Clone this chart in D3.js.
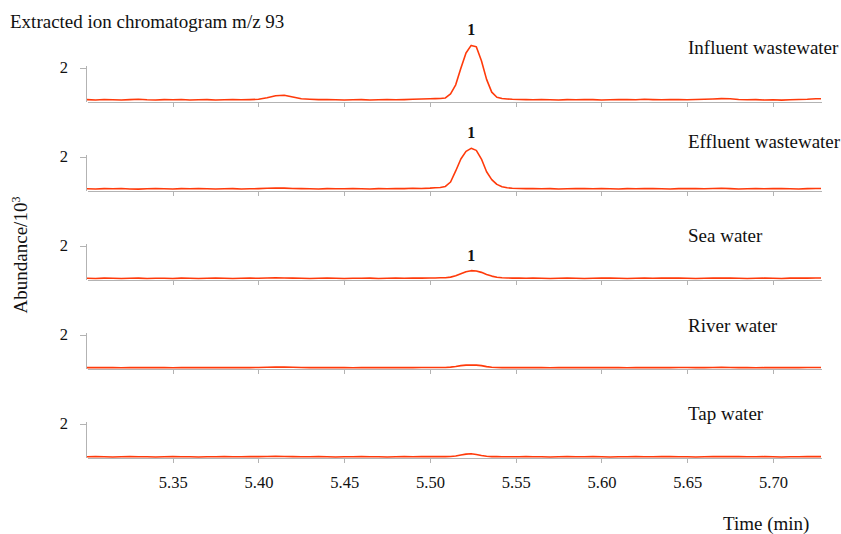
<!DOCTYPE html>
<html>
<head>
<meta charset="utf-8">
<script src="https://cdn.jsdelivr.net/npm/d3@7"></script>
<style>
  body { margin: 0; background: #fff; }
  svg, svg text { font-family: "Liberation Serif", "Times New Roman", serif; }
  .axis path, .axis line { stroke: #b3b3b3; stroke-width: 1; shape-rendering: crispEdges; }
</style>
</head>
<body>
<div id="canvas" class="canvas" style="width:841px;height:534px"></div>
<script>
// retention times (min), shared by all traces
var times = [5.300,5.305,5.310,5.315,5.320,5.325,5.330,5.335,5.340,5.345,5.350,5.355,5.360,5.365,5.370,5.375,5.380,5.385,5.390,5.395,5.400,
  5.405,5.410,5.415,5.420,5.425,5.430,5.435,5.440,5.445,5.450,5.455,5.460,5.465,5.470,5.475,5.480,5.485,5.490,5.495,5.500,
  5.503,5.506,5.509,5.512,5.515,5.518,5.521,5.524,5.527,5.530,5.533,5.536,5.539,5.542,5.545,5.548,
  5.552,5.556,5.560,5.565,5.570,5.575,5.580,5.585,5.590,5.595,5.600,5.605,5.610,5.615,5.620,5.625,5.630,5.635,5.640,5.645,
  5.650,5.655,5.660,5.665,5.670,5.675,5.680,5.685,5.690,5.695,5.700,5.705,5.710,5.715,5.720,5.725,5.728];

var samples = ['Influent wastewater','Effluent wastewater','Sea water','River water','Tap water'];
var peakLabels = ['1','1','1','',''];

// abundance / 10^3
var influent = [0.11,0.09,0.12,0.10,0.09,0.11,0.13,0.10,0.09,0.11,0.10,0.12,0.09,0.10,0.11,0.09,0.10,0.12,0.10,0.11,
  0.13,0.22,0.34,0.37,0.26,0.16,0.13,0.11,0.12,0.10,0.09,0.10,0.11,0.09,0.10,0.12,0.10,0.11,0.13,0.15,0.16,
  0.17,0.18,0.21,0.45,0.98,1.95,2.85,3.30,3.22,2.40,1.30,0.55,0.25,0.18,0.15,0.13,
  0.12,0.11,0.10,0.12,0.10,0.09,0.11,0.10,0.12,0.11,0.09,0.10,0.11,0.12,0.10,0.13,0.11,0.10,0.12,0.11,
  0.10,0.12,0.13,0.15,0.17,0.16,0.12,0.10,0.11,0.09,0.10,0.08,0.10,0.12,0.13,0.16,0.16];
var effluent = [0.10,0.09,0.11,0.10,0.12,0.09,0.08,0.10,0.11,0.10,0.09,0.11,0.10,0.12,0.10,0.09,0.10,0.11,0.09,0.10,
  0.11,0.13,0.15,0.14,0.12,0.11,0.10,0.09,0.11,0.10,0.10,0.12,0.10,0.09,0.11,0.10,0.12,0.11,0.13,0.12,0.14,
  0.16,0.18,0.24,0.50,1.15,1.85,2.30,2.48,2.36,1.85,1.10,0.64,0.36,0.22,0.16,0.13,
  0.12,0.11,0.12,0.10,0.11,0.09,0.10,0.12,0.11,0.10,0.12,0.10,0.09,0.11,0.10,0.12,0.11,0.10,0.09,0.11,
  0.12,0.11,0.10,0.12,0.13,0.11,0.09,0.10,0.11,0.10,0.12,0.11,0.10,0.09,0.11,0.12,0.12];
var seaWater = [0.07,0.06,0.08,0.07,0.06,0.07,0.08,0.06,0.07,0.07,0.06,0.08,0.07,0.06,0.07,0.08,0.07,0.06,0.07,0.08,
  0.07,0.09,0.10,0.09,0.08,0.07,0.06,0.07,0.08,0.07,0.06,0.07,0.07,0.08,0.06,0.07,0.08,0.07,0.08,0.08,0.09,
  0.09,0.10,0.10,0.14,0.22,0.34,0.46,0.52,0.50,0.42,0.30,0.20,0.13,0.10,0.09,0.08,
  0.08,0.07,0.08,0.07,0.06,0.07,0.08,0.07,0.06,0.07,0.08,0.09,0.07,0.06,0.07,0.08,0.07,0.08,0.09,0.08,
  0.07,0.06,0.07,0.08,0.09,0.08,0.07,0.06,0.07,0.08,0.07,0.06,0.08,0.09,0.08,0.09,0.09];
var riverWater = [0.05,0.05,0.06,0.05,0.04,0.05,0.05,0.06,0.05,0.05,0.04,0.05,0.05,0.06,0.05,0.05,0.05,0.06,0.05,0.05,
  0.06,0.07,0.08,0.08,0.07,0.06,0.05,0.05,0.06,0.05,0.05,0.04,0.05,0.05,0.06,0.05,0.05,0.06,0.05,0.06,0.06,
  0.06,0.06,0.06,0.08,0.12,0.17,0.20,0.20,0.20,0.17,0.11,0.07,0.06,0.05,0.05,0.05,
  0.05,0.06,0.05,0.05,0.04,0.05,0.05,0.06,0.05,0.05,0.05,0.06,0.05,0.04,0.05,0.05,0.06,0.05,0.05,0.06,
  0.06,0.05,0.05,0.06,0.07,0.06,0.05,0.05,0.04,0.05,0.05,0.06,0.05,0.05,0.06,0.06,0.06];
var tapWater = [0.04,0.05,0.04,0.03,0.04,0.05,0.04,0.04,0.03,0.04,0.05,0.04,0.04,0.03,0.04,0.04,0.05,0.04,0.04,0.05,
  0.05,0.06,0.07,0.06,0.05,0.04,0.04,0.05,0.04,0.03,0.04,0.04,0.05,0.04,0.04,0.03,0.04,0.05,0.04,0.05,0.05,
  0.05,0.05,0.05,0.06,0.09,0.15,0.20,0.22,0.18,0.12,0.07,0.05,0.05,0.04,0.04,0.04,
  0.04,0.05,0.04,0.04,0.03,0.04,0.05,0.04,0.04,0.05,0.04,0.03,0.04,0.04,0.05,0.04,0.04,0.05,0.05,0.04,
  0.04,0.03,0.04,0.05,0.05,0.06,0.05,0.04,0.04,0.05,0.04,0.03,0.04,0.04,0.05,0.05,0.05];

var traces = [influent, effluent, seaWater, riverWater, tapWater];
var xTicks = [5.35,5.40,5.45,5.50,5.55,5.60,5.65,5.70];
var yTicks = [2];

// layout
var W = 841, H = 534;
var x0 = 87, x1 = 821;
var firstBase = 101.5, step = 89, pxPerUnit = 17;
var labelDy = [-48, -42.5, -38, -37, -38];
var serif = '"Liberation Serif", "Times New Roman", serif';

var svg = d3.select('.canvas')
    .append('svg')
    .attr('width', W)
    .attr('height', H)
    .style('font-family', serif);

var scaleX = d3.scaleLinear()
    .domain([5.30, 5.728])
    .range([x0, x1]);

var line = d3.line()
    .x(function(d){ return scaleX(d[0]); })
    .y(function(d){ return d[1]; });

traces.forEach(function(vals, i){
    var base = firstBase + i*step;
    var scaleY = d3.scaleLinear()
        .domain([0, 2.1])
        .range([base, base - 2.1*pxPerUnit]);

    // x axis of each panel (labels only on last)
    var ax = d3.axisBottom(scaleX)
        .tickValues(xTicks)
        .tickSize(5)
        .tickSizeOuter(0)
        .tickPadding(14)
        .tickFormat(i == traces.length - 1 ? d3.format('.2f') : '');
    var gx = svg.append('g')
        .attr('class','axis')
        .attr('transform','translate(0,' + base + ')')
        .call(ax);

    var ay = d3.axisLeft(scaleY)
        .tickValues(yTicks)
        .tickSize(6)
        .tickSizeOuter(0)
        .tickPadding(12)
        .tickFormat(d3.format('d'));
    var gy = svg.append('g')
        .attr('class','axis')
        .attr('transform','translate(' + (x0 - 1) + ',0)')
        .call(ay);

    [gx, gy].forEach(function(g){
        g.attr('font-family', null).attr('font-size', null);
        g.selectAll('text')
            .style('font-family', serif)
            .style('font-size', '16.5px')
            .attr('fill', '#111');
    });

    var pts = times.map(function(t, k){ return [t, scaleY(vals[k])]; });
    svg.append('path')
        .attr('d', line(pts))
        .attr('fill','none')
        .attr('stroke','#ff3a0a')
        .attr('stroke-width',1.6)
        .attr('stroke-linejoin','round');

    if (peakLabels[i]) {
        var top = d3.maxIndex(vals);
        svg.append('text')
            .attr('x', scaleX(times[top]))
            .attr('y', scaleY(vals[top]) - 10)
            .attr('text-anchor','middle')
            .style('font-size','16px')
            .style('font-weight','bold')
            .attr('fill','#111')
            .text(peakLabels[i]);
    }

    svg.append('text')
        .attr('x', 688)
        .attr('y', base + labelDy[i])
        .style('font-size','19px')
        .attr('fill','#111')
        .text(samples[i]);
});

svg.append('text')
    .attr('x', 10)
    .attr('y', 28)
    .style('font-size','19px')
    .attr('fill','#111')
    .text('Extracted ion chromatogram m/z 93');

var yl = svg.append('text')
    .attr('transform','translate(27,255) rotate(-90)')
    .attr('text-anchor','middle')
    .style('font-size','19px')
    .attr('fill','#111');
yl.append('tspan').text('Abundance/10');
yl.append('tspan').attr('dy','-7').style('font-size','12px').text('3');

svg.append('text')
    .attr('x', 723)
    .attr('y', 530)
    .style('font-size','19px')
    .attr('fill','#111')
    .text('Time (min)');
</script>
</body>
</html>
